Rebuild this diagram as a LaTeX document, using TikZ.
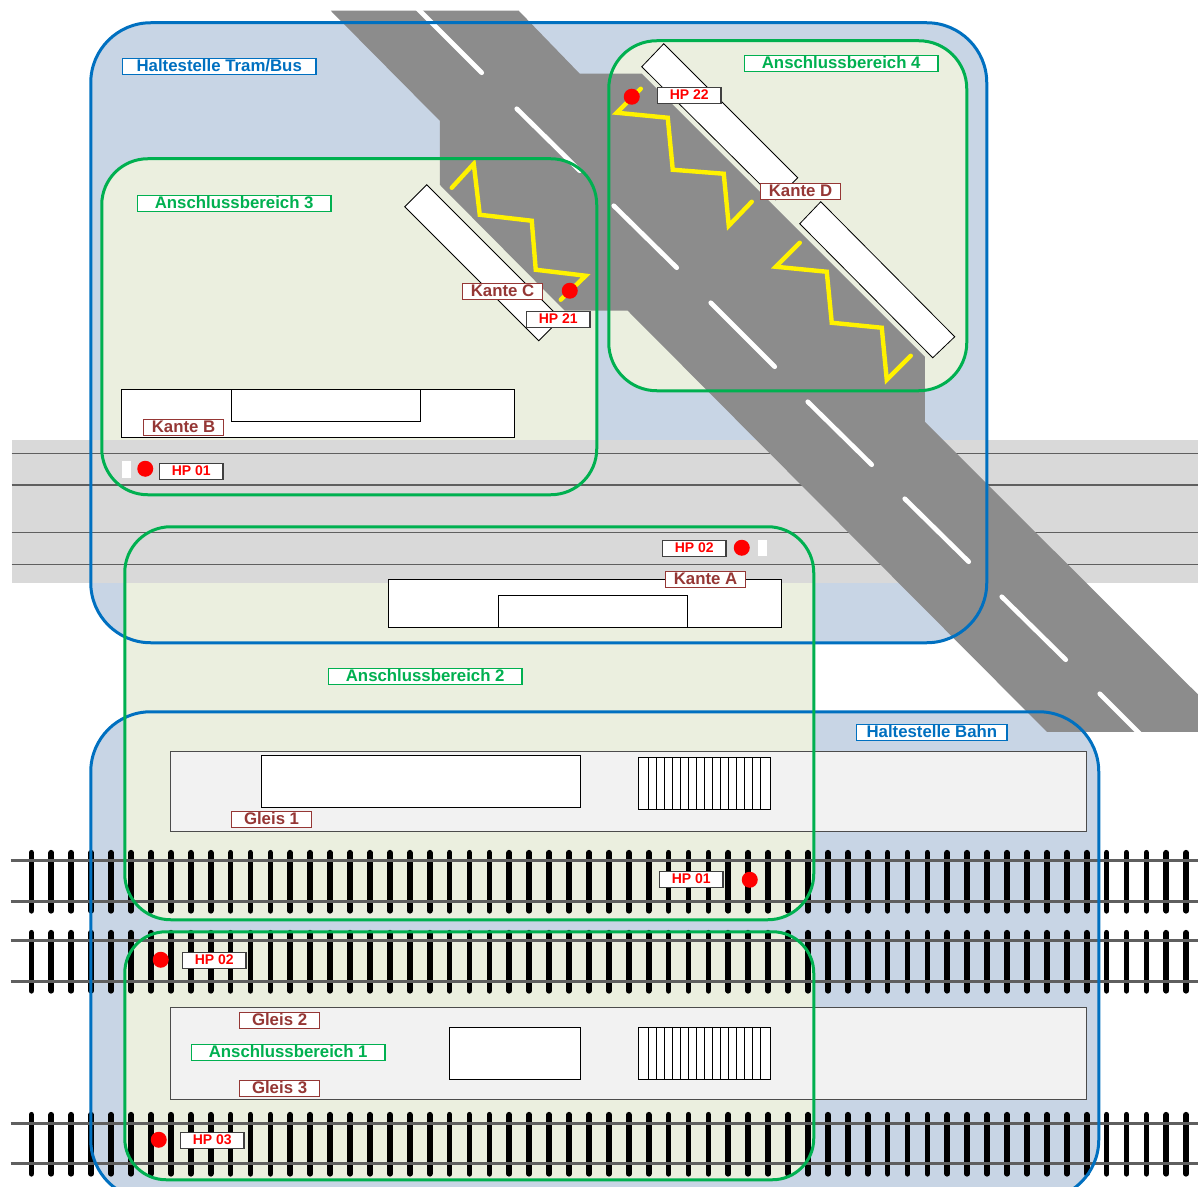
\documentclass[tikz,border=0pt]{standalone}
\usepackage{fontspec}
\setmainfont{Liberation Sans}
\usetikzlibrary{calc}

\definecolor{bluearea}{HTML}{C8D5E5}
\definecolor{blueline}{HTML}{0070C0}
\definecolor{greenarea}{HTML}{EBEFDF}
\definecolor{greenline}{HTML}{00B050}
\definecolor{roadgray}{HTML}{8C8C8C}
\definecolor{bandgray}{HTML}{D9D9D9}
\definecolor{railgray}{HTML}{5F5F5F}
\definecolor{brownline}{HTML}{953735}

\begin{document}
\begin{tikzpicture}[%
    x=0.75pt,y=-0.75pt,
    node font=\bfseries\fontsize{12.6}{13}\selectfont,
    haltestelle/.style={fill=bluearea,rounded corners=45pt},
    haltline/.style={draw=blueline,line width=2.25pt,rounded corners=45pt},
    zone/.style={draw=greenline,line width=2.25pt,rounded corners=#1},
    zone/.default=34.5pt,
    zonefill/.style={fill=greenarea,rounded corners=#1},
    zonefill/.default=34.5pt,
    platform/.style={draw=black,line width=0.6pt,fill=white},
    gleisplatform/.style={draw=black!70,line width=0.7pt,fill=black!5},
    stripe/.style={white,line width=3.5pt,line cap=round},
    zigzag/.style={yellow,line width=3.3pt,line cap=round,line join=miter},
    hp/.style={circle,fill=red,minimum size=12pt,inner sep=0},
    tag/.style={draw,fill=white,line width=1.2pt,inner sep=0,
      minimum height=12pt,anchor=north west,text height=10pt,text depth=2pt},
    blaulabel/.style={tag,draw=blueline,text=blueline},
    zonelabel/.style={tag,draw=greenline,text=greenline,minimum width=145pt},
    kantelabel/.style={tag,draw=brownline,text=brownline,minimum width=60pt},
    hplabel/.style={tag,draw=black!75,line width=1.3pt,text=red,minimum width=47.5pt,
      font=\fontsize{10.5}{11}\selectfont,text height=9.2pt,text depth=2.8pt}]

  \path[use as bounding box,clip] (0.25,0.25) rectangle (1198.25,1187.25);

  % --- areas -----------------------------
  \path[haltestelle] (91,23) rectangle (987,643);
  \path[haltestelle] (91,712) rectangle (1099,1200);
  \path[zonefill] (102,159) rectangle (597,495);
  \path[zonefill=36pt] (609,41) rectangle (967,391);
  \path[zonefill] (125,527) rectangle (814,920);
  \path[zonefill=31pt] (125,932) rectangle (814,1180);

  % band
  \fill[bandgray] (12,440) rectangle (1198.5,583);
  \draw[railgray,line width=1.1pt] (12,453.5) -- (1198.5,453.5);
  \draw[railgray,line width=1.1pt] (12,485.2) -- (1198.5,485.2);
  \draw[railgray,line width=1.1pt] (12,532.5) -- (1198.5,532.5);
  \draw[railgray,line width=1.1pt] (12,564.5) -- (1198.5,564.5);

  % road
  \fill[roadgray] (331,11) -- (519,11) -- (580,74) -- (642,74) -- (925,357)
    -- (925,422) -- (1198.5,695) -- (1198.5,732) -- (1047,732) -- (628,311)
    -- (565,311) -- (440,185) -- (440,121) -- cycle;
  \begin{scope}
    \clip (0,11) rectangle (1198.5,732);
    \draw[stripe] (416,7) -- (482,73);
    \draw[stripe] (517,109) -- (580,171);
    \draw[stripe] (614,206) -- (677,268);
    \draw[stripe] (711,303) -- (775,367);
    \draw[stripe] (808,402) -- (872,465);
    \draw[stripe] (905,499) -- (969,562);
    \draw[stripe] (1002,597) -- (1066,660);
    \draw[stripe] (1100,694) -- (1150,744);
  \end{scope}

  % platforms
  \draw[platform] (427,185) -- (405,207) -- (539,341) -- (561,319) -- cycle;
  \draw[platform] (664,44) -- (642,67) -- (776,200) -- (798,178) -- cycle;
  \draw[platform] (821,202) -- (800,224) -- (933,358) -- (955,337) -- cycle;
  \draw[platform] (122,390) rectangle (515,438);
  \draw[platform] (232,390) rectangle (421,422);
  \draw[platform] (389,580) rectangle (782,628);
  \draw[platform] (499,596) rectangle (688,628);
  \fill[white] (122,461) rectangle (131,478);
  \fill[white] (758,540) rectangle (767,556);

  % passenger paths
  \draw[zigzag] (452,188) -- (474,164) -- (480,215) -- (532,221) -- (536,270) -- (586,276) -- (561,300);
  \draw[zigzag] (641,89) -- (617,113) -- (668,118) -- (673,170) -- (724,174) -- (729,226) -- (752,202);
  \draw[zigzag] (800,243) -- (776,267) -- (827,272) -- (832,323) -- (882,328) -- (887,380) -- (911,356);

  % --- station --------------------------
  \draw[gleisplatform] (171,752) rectangle (1087,832);
  \draw[gleisplatform] (171,1008) rectangle (1087,1100);
  \draw[platform] (262,756) rectangle (581,808);
  \draw[platform] (450,1028) rectangle (581,1080);

  % stairs
  \foreach \ya/\yb in {757.5/810,1028/1080} {
    \draw[platform] (639,\ya) rectangle (771,\yb);
    \foreach \k in {0,...,14}
      \draw[black,line width=0.5pt] ($(649,\ya)+(\k*8,0)$) -- ($(649,\yb)+(\k*8,0)$);
  }

  % tracks
  \foreach \ya/\yb/\ta/\tb in {850/914/861/902,930/994/941/982,1112/1177/1124/1164} {
    \foreach \k in {0,...,58}
      \draw[black,line width=4.3pt,line cap=round]
        ($(31.7,\ya+3)+(\k*19.91,0)$) -- ($(31.7,\yb-3)+(\k*19.91,0)$);
    \draw[railgray,line width=2.1pt] (11,\ta) -- (1198.5,\ta);
    \draw[railgray,line width=2.1pt] (11,\tb) -- (1198.5,\tb);
  }

  % --- outlines --------------------------
  \path[haltline] (91,23) rectangle (987,643);
  \path[haltline] (91,712) rectangle (1099,1200);
  \path[zone] (102,159) rectangle (597,495);
  \path[zone=36pt] (609,41) rectangle (967,391);
  \path[zone] (125,527) rectangle (814,920);
  \path[zone=31pt] (125,932) rectangle (814,1180);

  % --- signals ---------------------------
  \node (H01a) at (145.5,469) [hp] {};
  \node (H02a) at (742,548) [hp] {};
  \node (H21) at (570,291) [hp] {};
  \node (H22) at (632,97) [hp] {};
  \node (H01b) at (750,880) [hp] {};
  \node (H02b) at (161,960) [hp] {};
  \node (H03) at (159,1140) [hp] {};

  % --- labels ----------------------------
  \node (LTram) at (122,58) [blaulabel,minimum width=145pt] {Haltestelle Tram/Bus};
  \node (LBahn) at (856,724) [blaulabel,minimum width=113pt] {Haltestelle Bahn};
  \node (LZ3) at (137,195) [zonelabel] {Anschlussbereich 3};
  \node (LZ4) at (744,55) [zonelabel] {Anschlussbereich 4};
  \node (LZ2) at (328,668) [zonelabel] {Anschlussbereich 2};
  \node (LZ1) at (191,1044) [zonelabel] {Anschlussbereich 1};
  \node (LKC) at (462,283) [kantelabel] {Kante C};
  \node (LKD) at (760,183) [kantelabel] {Kante D};
  \node (LKB) at (143,419) [kantelabel] {Kante B};
  \node (LKA) at (665,571) [kantelabel] {Kante A};
  \node (LG1) at (231,811) [kantelabel] {Gleis 1};
  \node (LG2) at (239,1012) [kantelabel] {Gleis 2};
  \node (LG3) at (239,1080) [kantelabel] {Gleis 3};
  \node (LH21) at (526,311) [hplabel] {HP 21};
  \node (LH22) at (657,87) [hplabel] {HP 22};
  \node (LH01a) at (159,463) [hplabel] {HP 01};
  \node (LH02a) at (662,540) [hplabel] {HP 02};
  \node (LH01b) at (659,871) [hplabel] {HP 01};
  \node (LH02b) at (182,952) [hplabel] {HP 02};
  \node (LH03) at (180,1132) [hplabel] {HP 03};
\end{tikzpicture}
\end{document}
